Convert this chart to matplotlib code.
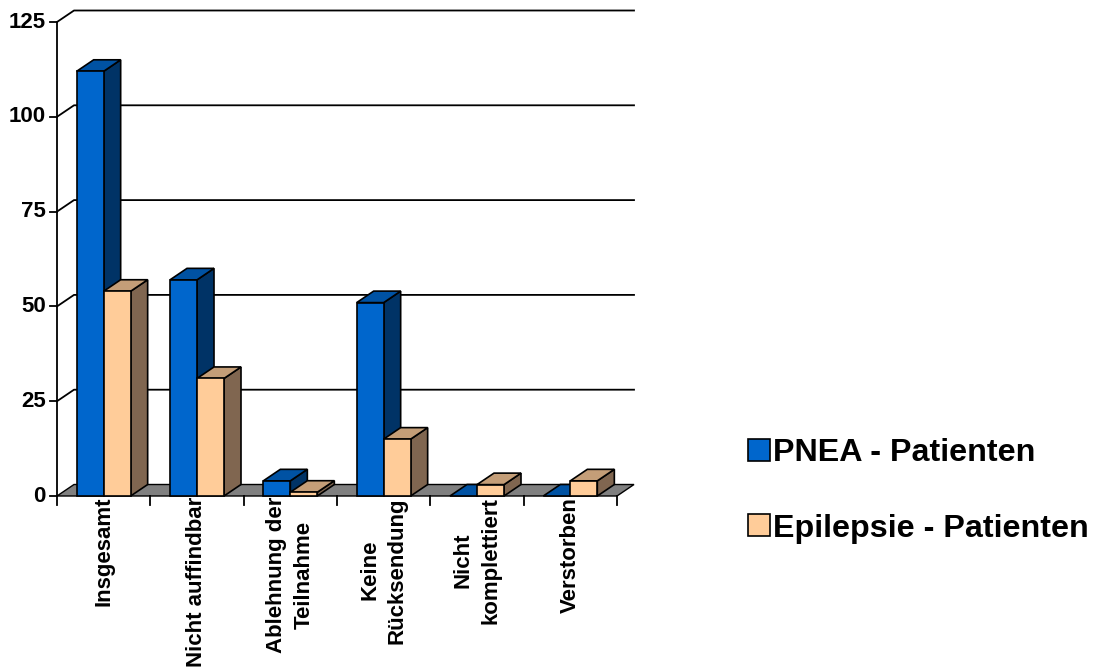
import matplotlib
matplotlib.use("Agg")
import matplotlib.pyplot as plt
from matplotlib.patches import Polygon, Patch

plt.rcParams['font.family'] = ['Liberation Sans', 'DejaVu Sans']
plt.rcParams['font.weight'] = 'bold'

categories = ["Insgesamt", "Nicht auffindbar", "Ablehnung der\nTeilnahme",
              "Keine\nRücksendung", "Nicht\nkomplettiert", "Verstorben"]
pnea = [112, 57, 4, 51, 0, 0]
epilepsie = [54, 31, 1, 15, 3, 4]
series_names = ["PNEA - Patienten", "Epilepsie - Patienten"]
y_ticks = [0, 25, 50, 75, 100, 125]

# face colours: front, top, side
pnea_col = ("#0066CC", "#0052A3", "#003366")
epi_col = ("#FFCC99", "#C49E78", "#806650")
floor_col = "#808080"

W, H = 1098, 669
fig = plt.figure(figsize=(W / 100, H / 100), dpi=100)
ax = fig.add_axes([0, 0, 1, 1])
ax.axis('off')

# pixel scale of one category and one value unit
PX = 560 / len(categories)
PY = 474 / 125
X_ORIG, Y_ORIG = 57, 496
ax.set_xlim(-X_ORIG / PX, (W - X_ORIG) / PX)
ax.set_ylim(-(H - Y_ORIG) / PY, Y_ORIG / PY)

DX = 17 / PX
DY = 11.5 / PY
n = len(categories)
lw = 1.3

# back wall gridlines
for v in y_ticks[1:]:
    ax.plot([0, DX, n + DX], [v, v + DY, v + DY], color="black", lw=lw, zorder=1)

# floor
ax.add_patch(Polygon([(0, 0), (n, 0), (n + DX, DY), (DX, DY)], closed=True,
                     fc=floor_col, ec="black", lw=1.0, zorder=2))

# value axis and ticks
ax.plot([0, 0], [0, 125], color="black", lw=lw, zorder=3)
for v in y_ticks:
    ax.plot([-7 / PX, 0], [v, v], color="black", lw=lw, zorder=3)
    ax.text(-11 / PX, v, str(v), ha="right", va="center", fontsize=16,
            fontweight="bold")

# category ticks below floor
for k in range(n + 1):
    ax.plot([k, k], [0, -9 / PY], color="black", lw=lw, zorder=3)


def bar3d(x0, w, v, cols):
    front, top, side = cols
    kw = dict(closed=True, ec="black", lw=1.2, joinstyle="miter", zorder=4)
    ax.add_patch(Polygon([(x0 + w, 0), (x0 + w + DX, DY), (x0 + w + DX, v + DY),
                          (x0 + w, v)], fc=side, **kw))
    ax.add_patch(Polygon([(x0, v), (x0 + w, v), (x0 + w + DX, v + DY),
                          (x0 + DX, v + DY)], fc=top, **kw))
    if v > 0:
        ax.add_patch(Polygon([(x0, 0), (x0 + w, 0), (x0 + w, v), (x0, v)],
                             fc=front, **kw))


bw = 27 / PX
for i in range(n):
    c = i + 0.5
    bar3d(c - bw, bw, pnea[i], pnea_col)
    bar3d(c, bw, epilepsie[i], epi_col)
    ax.text(c, -1 / PY, categories[i], rotation=90, ha="center", va="top",
            multialignment="center", fontsize=16, fontweight="bold",
            linespacing=1.4)

handles = [Patch(fc=pnea_col[0], ec="black", lw=1.2),
           Patch(fc=epi_col[0], ec="black", lw=1.2)]
ax.legend(handles, series_names, loc="center left", frameon=False,
          bbox_to_anchor=(748 / W, 1 - 491 / H), bbox_transform=fig.transFigure,
          prop=dict(size=23.2, weight="bold"), handlelength=0.68,
          handleheight=0.68, handletextpad=0.1, labelspacing=1.4,
          borderpad=0, borderaxespad=0)

fig.savefig("out.png", dpi=100)
